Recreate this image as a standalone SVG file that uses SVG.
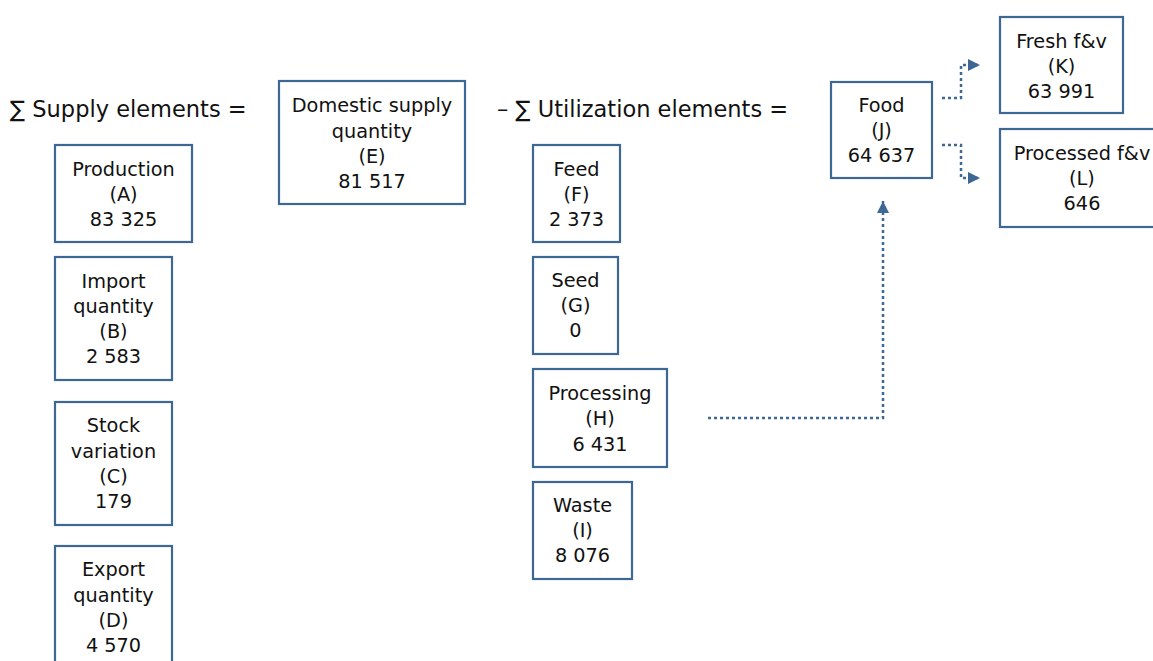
<svg xmlns="http://www.w3.org/2000/svg" width="1153" height="661" viewBox="0 0 1153 661">
<style>
.box{fill:#fff;stroke:#3d6893;stroke-width:2.2}
.t{font-family:"DejaVu Sans","Open Sans",sans-serif;font-size:19.3px;fill:#111;text-anchor:middle}
.h{font-family:"DejaVu Sans","Open Sans",sans-serif;font-size:22.5px;fill:#111}
.c{fill:none;stroke:#3d6893;stroke-width:2.5;stroke-dasharray:3 3}
</style>
<defs>
<marker id="ar" viewBox="0 0 10 10" refX="10" refY="5" markerWidth="12" markerHeight="12" markerUnits="userSpaceOnUse" orient="auto">
<path d="M0,0 L10,5 L0,10 Z" fill="#3d6893"/>
</marker>
</defs>
<rect width="1153" height="661" fill="#fff"/>
<text class="h" x="10" y="117">∑ Supply elements =</text>
<text class="h" x="497" y="117">– ∑ Utilization elements =</text>
<g id="connectors">
<path class="c" d="M708,418 H883 V201" marker-end="url(#ar)"/>
<path class="c" d="M942,98 H961 V65 H980" marker-end="url(#ar)"/>
<path class="c" d="M942,145 H961 V178 H980" marker-end="url(#ar)"/>
</g>
<g id="nodeA"><rect class="box" x="55" y="145" width="137" height="97"/>
<text class="t" x="123.5" y="176">Production</text><text class="t" x="123.5" y="201">(A)</text><text class="t" x="123.5" y="226">83 325</text></g>
<g id="nodeB"><rect class="box" x="55" y="257" width="117" height="123"/>
<text class="t" x="113.5" y="288">Import</text><text class="t" x="113.5" y="313">quantity</text><text class="t" x="113.5" y="338">(B)</text><text class="t" x="113.5" y="363">2 583</text></g>
<g id="nodeC"><rect class="box" x="55" y="402" width="117" height="123"/>
<text class="t" x="113.5" y="432">Stock</text><text class="t" x="113.5" y="458">variation</text><text class="t" x="113.5" y="483">(C)</text><text class="t" x="113.5" y="508">179</text></g>
<g id="nodeD"><rect class="box" x="55" y="546" width="117" height="130"/>
<text class="t" x="113.5" y="576">Export</text><text class="t" x="113.5" y="602">quantity</text><text class="t" x="113.5" y="627">(D)</text><text class="t" x="113.5" y="652">4 570</text></g>
<g id="nodeE"><rect class="box" x="279" y="81" width="186" height="123"/>
<text class="t" x="372" y="112">Domestic supply</text><text class="t" x="372" y="137.5">quantity</text><text class="t" x="372" y="163">(E)</text><text class="t" x="372" y="188">81 517</text></g>
<g id="nodeF"><rect class="box" x="533" y="145" width="87" height="97"/>
<text class="t" x="576.5" y="176">Feed</text><text class="t" x="576.5" y="201">(F)</text><text class="t" x="576.5" y="226">2 373</text></g>
<g id="nodeG"><rect class="box" x="533" y="257" width="85" height="97"/>
<text class="t" x="575.5" y="287">Seed</text><text class="t" x="575.5" y="312">(G)</text><text class="t" x="575.5" y="337">0</text></g>
<g id="nodeH"><rect class="box" x="533" y="369" width="134" height="98"/>
<text class="t" x="600" y="400">Processing</text><text class="t" x="600" y="425">(H)</text><text class="t" x="600" y="451">6 431</text></g>
<g id="nodeI"><rect class="box" x="533" y="482" width="99" height="97"/>
<text class="t" x="582.5" y="512">Waste</text><text class="t" x="582.5" y="537">(I)</text><text class="t" x="582.5" y="562">8 076</text></g>
<g id="nodeJ"><rect class="box" x="831" y="82" width="101" height="96"/>
<text class="t" x="881.5" y="112">Food</text><text class="t" x="881.5" y="137">(J)</text><text class="t" x="881.5" y="162">64 637</text></g>
<g id="nodeK"><rect class="box" x="1000" y="17" width="123" height="96"/>
<text class="t" x="1061.5" y="48">Fresh f&amp;v</text><text class="t" x="1061.5" y="73">(K)</text><text class="t" x="1061.5" y="98">63 991</text></g>
<g id="nodeL"><rect class="box" x="1000" y="129" width="164" height="98"/>
<text class="t" x="1082" y="160">Processed f&amp;v</text><text class="t" x="1082" y="185">(L)</text><text class="t" x="1082" y="210">646</text></g>
</svg>
